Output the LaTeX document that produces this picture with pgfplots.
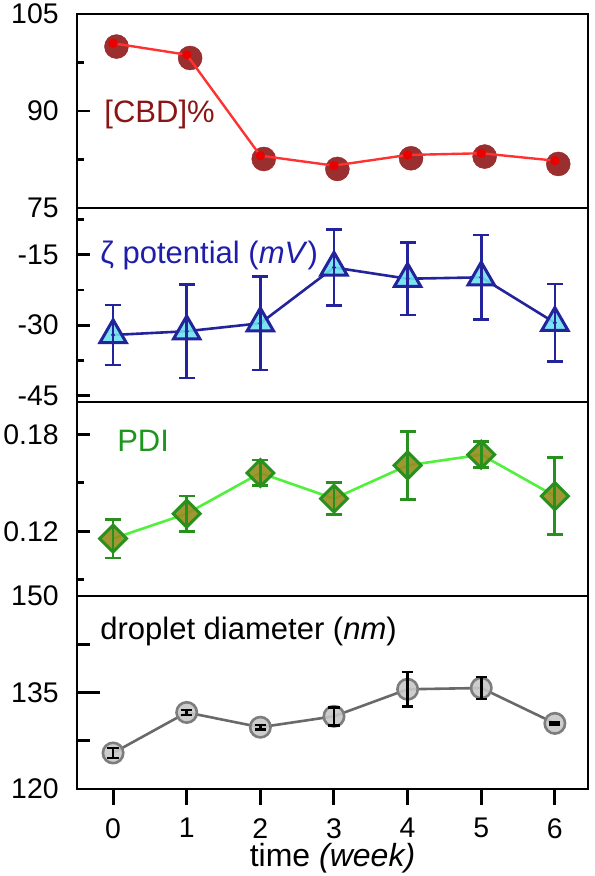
\documentclass[border=0pt]{standalone}
\usepackage{pgfplots}
\pgfplotsset{compat=1.18}
\usepackage{fontspec}
\setmainfont{Liberation Sans}
\definecolor{cbdfill}{RGB}{150,35,35}
\definecolor{cbdtext}{RGB}{140,20,20}
\definecolor{cbdline}{RGB}{255,50,50}
\definecolor{cbddot}{RGB}{235,0,0}
\definecolor{zedge}{RGB}{35,35,155}
\definecolor{ztext}{RGB}{30,30,170}
\definecolor{zfill}{RGB}{110,225,240}
\definecolor{pedge}{RGB}{40,145,30}
\definecolor{pfill}{RGB}{150,140,30}
\definecolor{pline}{RGB}{80,240,60}
\definecolor{ptext}{RGB}{30,150,30}
\definecolor{gfill}{RGB}{200,200,200}
\definecolor{gedge}{RGB}{125,125,125}
\definecolor{gline}{RGB}{105,105,105}
\newcommand\tickfont{\fontsize{14.2pt}{14.2pt}\selectfont}
\newcommand\labfont{\fontsize{15.5pt}{15.5pt}\selectfont}
\newcommand\xlabfont{\fontsize{16pt}{16pt}\selectfont}
\pgfplotsset{
  panel/.style={
    scale only axis, width=255.5pt, height=97pt,
    anchor=south west,
    xmin=-0.49, xmax=6.45,
    xtick=\empty,
    ytick pos=left,
    tick align=inside,
    major tick length=6.5pt, minor tick length=3.5pt,
    axis line style={line width=1.3pt},
    tick style={black, line width=1.4pt},
    yticklabel style={font=\tickfont, inner sep=0pt, xshift=-9pt, anchor=east},
    clip=false, clip marker paths=true,
  },
  hidemarks/.style={only marks, mark=*, mark size=0.5pt, mark options={opacity=0}},
}
\begin{document}
\begin{tikzpicture}
\useasboundingbox (0,0) rectangle (297pt,438pt);
% ---------------- panel 1: [CBD]%
\begin{axis}[panel, at={(38.5pt,334pt)}, ymin=75, ymax=105,
  ytick={75,90,105}, yticklabels={75,90,105}, minor ytick={82.5,97.5}]
\addplot[only marks, mark=*, mark size=6pt,
  mark options={draw=cbdfill, line width=0.2pt, fill=cbdfill, fill opacity=0.95, xshift=1.7pt, yshift=-1.65pt}]
  coordinates {(0,100.47) (1,98.7) (2,83.09) (3,81.55) (4,83.2) (5,83.46) (6,82.32)};
\addplot[cbdline, line width=1.2pt, mark=*, mark size=2.2pt,
  mark options={draw=cbddot, line width=0.2pt, fill=cbddot}]
  coordinates {(0,100.47) (1,98.7) (2,83.09) (3,81.55) (4,83.2) (5,83.46) (6,82.32)};
\node[anchor=base west, inner sep=0pt, text=cbdtext, font=\labfont]
  at (rel axis cs:0.053,0.443) {[CBD]\%};
\end{axis}
% ---------------- panel 2: zeta potential
\begin{axis}[panel, at={(38.5pt,237pt)}, ymin=-46.4, ymax=-5,
  ytick={-45,-30,-15}, yticklabels={-45,-30,-15}, minor ytick={-37.5,-22.5,-7.5}]
\addplot[zedge, line width=1.3pt, no marks]
  coordinates {(0,-32.1) (1,-31.3) (2,-29.6) (3,-17.7) (4,-20.1) (5,-19.8) (6,-29.5)};
\addplot[only marks, mark=triangle*, mark size=7.6pt,
  mark options={draw=zedge, fill=zfill, line width=1.5pt, fill opacity=0.9}]
  coordinates {(0,-32.1) (1,-31.3) (2,-29.6) (3,-17.7) (4,-20.1) (5,-19.8) (6,-29.5)};
\addplot[only marks, mark=*, mark size=0.9pt, mark options={draw=zedge, line width=0.2pt, fill=zedge},
  error bars/.cd, y dir=both, y explicit,
  error bar style={zedge, line width=1.3pt},
  error mark options={rotate=90, mark size=4pt, line width=1.3pt, zedge}]
  coordinates {(0,-32.1) +- (0,6.4) (1,-31.3) +- (0,10) (2,-29.6) +- (0,10)
    (3,-17.7) +- (0,8.1) (4,-20.1) +- (0,7.7) (5,-19.8) +- (0,9) (6,-29.5) +- (0,8.3)};
\node[anchor=base west, inner sep=0pt, text=ztext, font=\labfont]
  at (rel axis cs:0.045,0.716) {ζ potential (\textit{mV})};
\end{axis}
% ---------------- panel 3: PDI
\begin{axis}[panel, at={(38.5pt,140pt)}, ymin=0.08, ymax=0.20,
  ytick={0.12,0.18}, yticklabels={0.12,0.18}, minor ytick={0.09,0.15}]
\addplot[pline, line width=1.3pt, no marks]
  coordinates {(0,0.1155) (1,0.1309) (2,0.1561) (3,0.1402) (4,0.1608) (5,0.1674) (6,0.1418)};
\addplot[only marks, mark=square*, mark size=4.75pt,
  mark options={rotate=45, draw=pedge, fill=pfill, line width=1.5pt, fill opacity=0.9}]
  coordinates {(0,0.1155) (1,0.1309) (2,0.1561) (3,0.1402) (4,0.1608) (5,0.1674) (6,0.1418)};
\addplot[hidemarks,
  error bars/.cd, y dir=both, y explicit,
  error bar style={pedge, line width=1.4pt},
  error mark options={rotate=90, mark size=4pt, line width=1.4pt, pedge, opacity=1}]
  coordinates {(0,0.1155) +- (0,0.012) (1,0.1309) +- (0,0.011) (2,0.1561) +- (0,0.008)
    (3,0.1402) +- (0,0.010) (4,0.1608) +- (0,0.021) (5,0.1674) +- (0,0.008) (6,0.1418) +- (0,0.024)};
\node[anchor=base west, inner sep=0pt, text=ptext, font=\labfont]
  at (rel axis cs:0.078,0.744) {PDI};
\end{axis}
% ---------------- panel 4: droplet diameter
\begin{axis}[panel, at={(38.5pt,43.5pt)}, height=96.5pt, ymin=120, ymax=150,
  ytick={120,135,150}, yticklabels={120,135,150}, minor ytick={127.5,142.5},
  major tick length=11.5pt, minor tick length=6.5pt]
\addplot[gline, line width=1.3pt, no marks]
  coordinates {(0,125.6) (1,131.9) (2,129.6) (3,131.3) (4,135.5) (5,135.7) (6,130.2)};
\addplot[only marks, mark=*, mark size=5.1pt,
  mark options={draw=gedge, fill=gfill, line width=1.3pt, fill opacity=0.9}]
  coordinates {(0,125.6) (1,131.9) (2,129.6) (3,131.3) (4,135.5) (5,135.7) (6,130.2)};
\addplot[hidemarks,
  error bars/.cd, y dir=both, y explicit,
  error bar style={black, line width=1.3pt, opacity=1},
  error mark options={rotate=90, mark size=2.8pt, line width=1.3pt, black, opacity=1}]
  coordinates {(0,125.6) +- (0,0.8) (1,131.9) +- (0,0.4) (2,129.6) +- (0,0.35)
    (3,131.3) +- (0,1.4) (4,135.5) +- (0,2.7) (5,135.7) +- (0,1.7) (6,130.2) +- (0,0.15)};
\node[anchor=base west, inner sep=0pt, text=black, font=\labfont]
  at (rel axis cs:0.045,0.777) {droplet diameter (\textit{nm})};
\end{axis}
% ---------------- x axis ticks and label
\begin{axis}[scale only axis, width=255.5pt, height=96.5pt, anchor=south west,
  at={(38.5pt,43.5pt)}, xmin=-0.49, xmax=6.45, ymin=0, ymax=1,
  axis line style={draw=none}, ytick=\empty,
  xtick={0,1,2,3,4,5,6}, xticklabels={0,1,2,3,4,5,6},
  xtick pos=bottom, tick align=outside, major tick length=8pt,
  tick style={black, line width=1.5pt},
  xticklabel style={font=\tickfont, inner sep=0pt, anchor=north, yshift=-6.5pt},
  xlabel={time \textit{(week)}},
  xlabel style={at={(axis description cs:0.5,-0.404)}, anchor=base, inner sep=0pt, font=\xlabfont}]
\end{axis}
\end{tikzpicture}
\end{document}
